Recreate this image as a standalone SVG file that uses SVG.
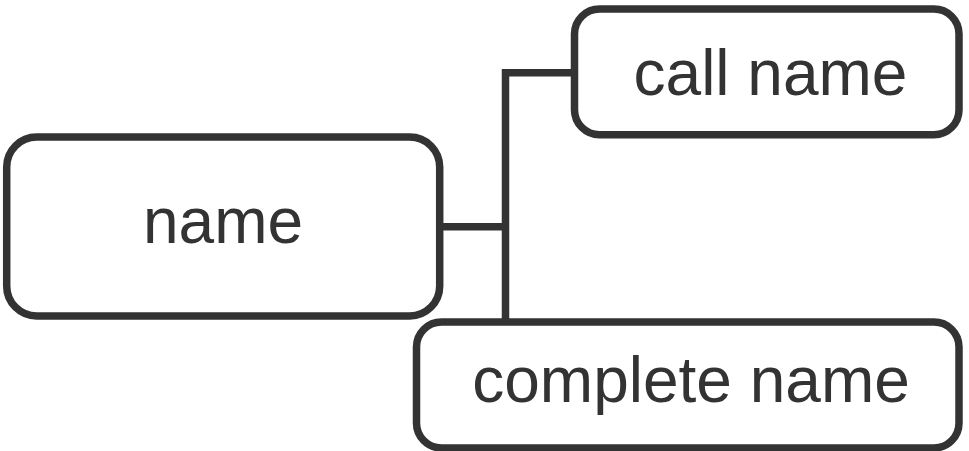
<svg xmlns="http://www.w3.org/2000/svg" width="969" height="451" viewBox="0 0 969 451">
<style>
.box{fill:#fff;stroke:#333;stroke-width:7.5}
.lbl{font-family:"Liberation Sans",Arial,sans-serif;font-size:64px;fill:#333;text-anchor:middle}
.conn{fill:none;stroke:#333;stroke-width:7.5;stroke-linejoin:miter;stroke-linecap:butt}
</style>
<rect width="969" height="451" fill="#fff"/>
<g id="connectors">
<path class="conn" d="M574.5 72.8 H505.5 V322"/>
<path class="conn" d="M439.7 226.7 H505.5"/>
</g>
<g id="node-name">
<rect class="box" x="6.7" y="137" width="433" height="179" rx="30" ry="30"/>
<text class="lbl" x="223" y="243">name</text>
</g>
<g id="node-call-name">
<rect class="box" x="574.5" y="9" width="384.5" height="125.7" rx="25" ry="25"/>
<text class="lbl" x="770.5" y="95">call name</text>
</g>
<g id="node-complete-name">
<rect class="box" x="416.5" y="322" width="542.5" height="126" rx="25" ry="25"/>
<text class="lbl" x="691" y="402">complete name</text>
</g>
</svg>
